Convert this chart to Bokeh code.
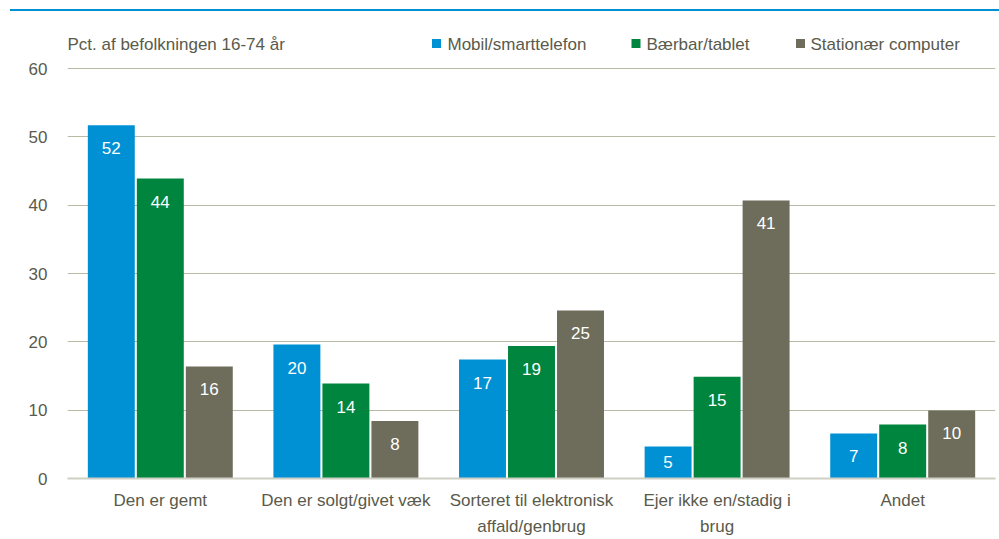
from bokeh.plotting import figure
from bokeh.models import FactorRange, Range1d, FixedTicker, ColumnDataSource, Div
from bokeh.layouts import column
from bokeh.transform import dodge
from bokeh.core.properties import value
from bokeh.embed import file_html
from bokeh.resources import INLINE

categories = ["Den er gemt", "Den er solgt/givet væk",
              "Sorteret til elektronisk\naffald/genbrug",
              "Ejer ikke en/stadig i\nbrug", "Andet"]
series_names = ["Mobil/smarttelefon", "Bærbar/tablet", "Stationær computer"]
mobil = [51.7, 19.6, 17.4, 4.7, 6.6]
baerbar = [43.9, 13.9, 19.4, 14.9, 7.9]
stationaer = [16.4, 8.4, 24.6, 40.7, 9.96]
y_ticks = [0, 10, 20, 30, 40, 50, 60]
unit_label = "Pct. af befolkningen 16-74 år"

colors = ["#0091D5", "#00853E", "#6E6C5B"]
txt_color = "#5A5A4C"
FONT = "Liberation Sans"

W, H = 999, 539
RULE_H = 12
MAIN_H = H - RULE_H
LEFT, RIGHT, BOTTOM = 67, 4, 61
frame_bottom = H - BOTTOM          # canvas y of value 0
px_per_unit = (frame_bottom - 68) / 60.0   # value 60 sits at canvas y 68
frame_h = MAIN_H - BOTTOM
y_top = frame_h / px_per_unit
cat_px = (W - LEFT - RIGHT) / len(categories)

def cx(canvas_x):
    return (canvas_x - LEFT) / cat_px

def cy(canvas_y):
    return (frame_bottom - canvas_y) / px_per_unit

# thin blue rule at the very top
rule = Div(text=('<div style="position:absolute;left:10px;top:9px;width:989px;'
                 'height:2px;background:#0091D5"></div>'),
           width=W, height=RULE_H, margin=0)

p = figure(width=W, height=MAIN_H, x_range=FactorRange(*categories, range_padding=0),
           y_range=Range1d(0, y_top), output_backend="svg", toolbar_location=None,
           min_border_left=LEFT, min_border_right=RIGHT, min_border_top=0,
           min_border_bottom=BOTTOM)
p.outline_line_color = None

offsets = [-0.264, 0.0, 0.264]
for vals, off, col in zip([mobil, baerbar, stationaer], offsets, colors):
    lab_y = []
    for v in vals:
        bar_px = v * px_per_unit
        o = min(23.0, bar_px / 2.0)
        lab_y.append(v - o / px_per_unit)
    src = ColumnDataSource(dict(cat=categories, val=vals, ly=lab_y,
                                txt=[f"{v:.0f}" for v in vals]))
    p.vbar(x=dodge("cat", off, range=p.x_range), top="val", width=0.253,
           source=src, fill_color=col, line_color=None)
    p.text(x=dodge("cat", off, range=p.x_range), y="ly", text="txt", source=src,
           text_color="white", text_font=value(FONT), text_font_size="17px",
           text_align="center", text_baseline="middle")

# header inside the frame: unit label and legend
p.text(x=[cx(67)], y=[cy(44)], text=[unit_label], text_font=value(FONT),
       text_font_size="17px", text_color=txt_color, text_baseline="middle",
       text_align="left")
sq_x = [436, 635.5, 800]
tx_x = [447, 646, 810]
p.scatter(x=[cx(v) for v in sq_x], y=[cy(43)] * 3, marker="square", size=9,
          fill_color=colors, line_color=None)
p.text(x=[cx(v) for v in tx_x], y=[cy(44)] * 3, text=series_names,
       text_font=value(FONT), text_font_size="17px", text_color=txt_color,
       text_baseline="middle", text_align="left")

p.yaxis.ticker = FixedTicker(ticks=y_ticks)
p.yaxis.axis_line_color = None
p.yaxis.major_tick_line_color = None
p.yaxis.minor_tick_line_color = None
p.yaxis.major_tick_out = 0
p.yaxis.major_tick_in = 0
p.yaxis.major_label_standoff = 20
p.yaxis.major_label_text_font = FONT
p.yaxis.major_label_text_font_size = "17px"
p.yaxis.major_label_text_color = txt_color

p.xaxis.axis_line_color = "#CFCFC6"
p.xaxis.axis_line_width = 2
p.xaxis.major_tick_line_color = None
p.xaxis.minor_tick_line_color = None
p.xaxis.major_tick_out = 0
p.xaxis.major_tick_in = 0
p.xaxis.major_label_standoff = 12
p.xaxis.major_label_text_font = FONT
p.xaxis.major_label_text_font_size = "17px"
p.xaxis.major_label_text_color = txt_color
p.xaxis.major_label_text_line_height = 1.41

p.xgrid.grid_line_color = None
p.ygrid.ticker = FixedTicker(ticks=y_ticks)
p.ygrid.grid_line_color = "#B9B9A6"
p.ygrid.grid_line_width = 1

layout = column(rule, p, spacing=0)
open("out.html", "w").write(file_html(layout, INLINE))
